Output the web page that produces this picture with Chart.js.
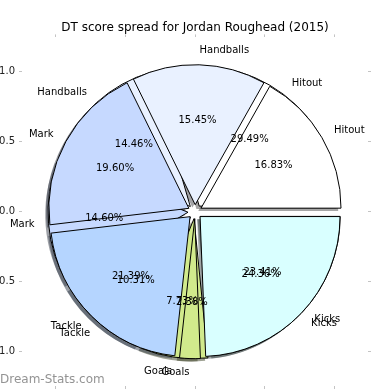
<!DOCTYPE html>
<html>
<head>
<meta charset="utf-8">
<script src="https://cdn.jsdelivr.net/npm/chart.js@4.4.0/dist/chart.umd.min.js"></script>
<style>
  html, body { margin: 0; padding: 0; background: #fff; }
  canvas { display: block; }
</style>
</head>
<body>
<canvas id="spread" width="390" height="390"></canvas>
<script>
// two seasons of the same spread, drawn over each other like the original plot
const categories = ["Hitout", "Handballs", "Mark", "Tackle", "Goals", "Kicks"];
const spreadTop = [16.83, 15.45, 19.60, 21.39, 2.38, 24.36];
const spreadBack = [29.49, 14.46, 14.60, 10.31, 7.73, 23.41];
const sliceColors = ["#ffffff", "#e9f1ff", "#c6d9ff", "#b5d5ff", "#d1ea8c", "#d9ffff"];
const tickValues = [-1, -0.5, 0, 0.5, 1];

const explode = 0.05;
const shadowShift = 0.02;
const xLimit = 1.236;
const yLimit = 1.245;

Chart.defaults.font.family = "DejaVu Sans";

// chart.js goes clockwise from the top, matplotlib counter-clockwise from 3 o'clock
const rev = (a) => a.slice().reverse();

function shadowOf(hex) {
  const n = parseInt(hex.slice(1), 16);
  const r = (n >> 16) & 255, g = (n >> 8) & 255, b = n & 255;
  return `rgba(${Math.round(r * 0.3)},${Math.round(g * 0.3)},${Math.round(b * 0.3)},0.5)`;
}

function pieSet(name, values, order, isShadow) {
  return {
    type: "pie",
    label: name,
    data: rev(values),
    order,
    rotation: 90,
    clip: false,
    backgroundColor: rev(isShadow ? sliceColors.map(shadowOf) : sliceColors),
    borderColor: "#000",
    borderWidth: isShadow ? 0 : 1,
    borderJoinStyle: "miter",
    isShadow,
  };
}

function axis(position, labelled, limit) {
  const horizontal = position === "top" || position === "bottom";
  return {
    type: "linear",
    position,
    axis: horizontal ? "x" : "y",
    min: -limit,
    max: limit,
    grid: { display: true, drawOnChartArea: false, drawTicks: true, tickLength: 3, color: "#c4c4c4" },
    border: { display: false },
    ticks: {
      display: labelled,
      padding: horizontal ? 2 : 4,
      color: "#222",
      font: { size: 10 },
      callback: (v) => Number(v).toFixed(1),
    },
    afterBuildTicks: (s) => { s.ticks = tickValues.map((v) => ({ value: v })); },
    afterFit: (s) => {
      if (position === "bottom") s.height = 4;
      else if (position === "top") s.height = 0;
      else s.width = 22;
      // labels may run off the figure, as in the original
      s.paddingTop = s.paddingBottom = s.paddingLeft = s.paddingRight = 0;
    },
  };
}

function geometry(chart) {
  const xs = chart.scales.x, ys = chart.scales.y;
  const cx = xs.getPixelForValue(0), cy = ys.getPixelForValue(0);
  return {
    cx, cy,
    r: xs.getPixelForValue(1) - cx,
    ex: xs.getPixelForValue(explode) - cx,
    sh: xs.getPixelForValue(shadowShift) - cx,
  };
}

const overlayPies = {
  id: "overlayPies",
  afterDatasetsUpdate(chart) {
    const g = geometry(chart);
    chart.data.datasets.forEach((ds, i) => {
      chart.getDatasetMeta(i).data.forEach((arc) => {
        const mid = (arc.startAngle + arc.endAngle) / 2;
        const s = ds.isShadow ? g.sh : 0;
        arc.x = g.cx + g.ex * Math.cos(mid) - s;
        arc.y = g.cy + g.ex * Math.sin(mid) + s;
        arc.innerRadius = 0;
        arc.outerRadius = g.r;
      });
    });
  },
  afterDatasetsDraw(chart) {
    const ctx = chart.ctx;
    const g = geometry(chart);
    ctx.save();
    ctx.font = "10px 'DejaVu Sans'";
    ctx.fillStyle = "#000";
    ctx.textBaseline = "middle";
    [1, 0].forEach((i) => {
      const ds = chart.data.datasets[i];
      const total = ds.data.reduce((s, v) => s + v, 0);
      chart.getDatasetMeta(i).data.forEach((arc, j) => {
        const mid = (arc.startAngle + arc.endAngle) / 2;
        const lx = arc.x + 1.1 * g.r * Math.cos(mid);
        const ly = arc.y + 1.1 * g.r * Math.sin(mid);
        ctx.textAlign = lx > g.cx ? "left" : "right";
        ctx.fillText(chart.data.labels[j], lx, ly);
        ctx.textAlign = "center";
        const pct = (ds.data[j] / total * 100).toFixed(2) + "%";
        ctx.fillText(pct, arc.x + 0.6 * g.r * Math.cos(mid), arc.y + 0.6 * g.r * Math.sin(mid));
      });
    });
    ctx.restore();
  },
  afterDraw(chart) {
    const ctx = chart.ctx;
    ctx.save();
    ctx.font = "12px 'DejaVu Sans'";
    ctx.fillStyle = "rgba(120,120,120,0.8)";
    ctx.textBaseline = "middle";
    ctx.textAlign = "left";
    ctx.fillText("Dream-Stats.com", 0, 380);
    ctx.restore();
  },
};

new Chart(document.getElementById("spread"), {
  type: "scatter",
  data: {
    labels: rev(categories),
    datasets: [
      pieSet("2015", spreadTop, 0, false),
      pieSet("2014", spreadBack, 1, false),
      pieSet("2015 shadow", spreadTop, 2, true),
      pieSet("2014 shadow", spreadBack, 3, true),
    ],
  },
  options: {
    responsive: false,
    animation: false,
    events: [],
    layout: { padding: 0 },
    plugins: {
      legend: { display: false },
      tooltip: { enabled: false },
      title: {
        display: true,
        text: "DT score spread for Jordan Roughead (2015)",
        color: "#000",
        font: { size: 12, weight: "normal" },
        padding: { top: 21, bottom: 2 },
      },
    },
    scales: {
      x: axis("bottom", true, xLimit),
      x2: axis("top", false, xLimit),
      y: axis("left", true, yLimit),
      y2: axis("right", false, yLimit),
    },
  },
  plugins: [overlayPies],
});
</script>
</body>
</html>
